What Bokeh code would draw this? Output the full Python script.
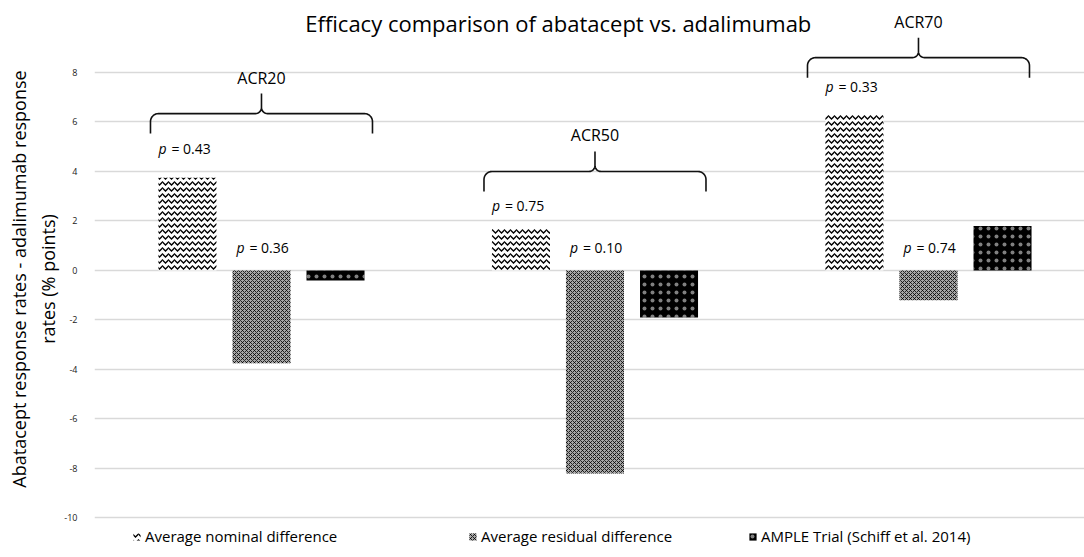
import numpy as np
from bokeh.plotting import figure
from bokeh.models import ColumnDataSource, Legend, LegendItem, Range1d
from bokeh.core.properties import value
from bokeh.embed import file_html
from bokeh.resources import INLINE

# ---------------- data ----------------
categories = ["ACR20", "ACR50", "ACR70"]
nominal_diff = [3.75, 1.7, 6.3]
residual_diff = [-3.75, -8.2, -1.2]
ample_diff = [-0.4, -1.9, 1.8]
p_nominal = ["0.43", "0.75", "0.33"]
p_residual = ["0.36", "0.10", "0.74"]
series_names = ["Average nominal difference", "Average residual difference",
                "AMPLE Trial (Schiff et al. 2014)"]
y_ticks = [-10, -8, -6, -4, -2, 0, 2, 4, 6, 8]

# ---------------- layout (not data) ----------------
PX_X = 333.5     # pixels per category
PX_Y = 24.75     # pixels per y unit
bar_offsets = [-0.222, 0.0, 0.222]
bar_width = 0.174
brace_level = [6.34, 4.0, 8.6]
brace_shift = [0.0, 0.0, -0.03]
p_nom_level = [4.93, 2.63, 7.43]
p_res_level = 0.92
FONT = "Open Sans"

x_idx = np.arange(len(categories), dtype=float)

p = figure(width=1084, height=557, output_backend="svg", toolbar_location=None,
           x_range=Range1d(-0.5007, 2.4678), y_range=Range1d(-11.596, 10.909),
           x_axis_location=None, min_border_left=94, min_border_right=0,
           min_border_top=0, min_border_bottom=0)
p.outline_line_color = None
p.background_fill_color = "white"
p.border_fill_color = "white"

# y axis
p.yaxis.ticker = y_ticks
p.yaxis.major_label_overrides = {t: str(t) for t in y_ticks}
p.yaxis.axis_line_color = None
p.yaxis.major_tick_line_color = None
p.yaxis.minor_tick_line_color = None
p.yaxis.major_label_standoff = 11
p.yaxis.major_label_text_font = FONT
p.yaxis.major_label_text_font_size = "9px"
p.yaxis.major_label_text_color = "#1a1a1a"
p.yaxis.axis_label = "Abatacept response rates - adalimumab response\nrates (% points)"
p.yaxis.axis_label_text_font = FONT
p.yaxis.axis_label_text_font_size = "18px"
p.yaxis.axis_label_text_font_style = "normal"
p.yaxis.axis_label_text_color = "#000000"
p.yaxis.axis_label_standoff = 1
p.ygrid.grid_line_color = "#d9d9d9"
p.ygrid.grid_line_width = 1.5
p.xgrid.visible = False

# bars
src = [ColumnDataSource(dict(x=x_idx + off, top=vals))
       for off, vals in zip(bar_offsets, [nominal_diff, residual_diff, ample_diff])]
r_nom = p.vbar(x="x", top="top", bottom=0, width=bar_width, source=src[0],
               fill_color="white", line_color=None,
               hatch_pattern="horizontal_wave", hatch_color="black",
               hatch_scale=6, hatch_weight=1.3)
r_res = p.vbar(x="x", top="top", bottom=0, width=bar_width, source=src[1],
               fill_color="#a6a6a6", line_color=None,
               hatch_pattern="diagonal_cross", hatch_color="black",
               hatch_scale=4, hatch_weight=0.8)
r_amp = p.vbar(x="x", top="top", bottom=0, width=bar_width, source=src[2],
               fill_color="black", line_color=None,
               hatch_pattern="dot", hatch_color="white", hatch_alpha=0.5,
               hatch_scale=8, hatch_weight=0.5)

# p-value labels
nom_left = x_idx + bar_offsets[0] - bar_width / 2
res_left = x_idx + bar_offsets[1] - bar_width / 2
for xs, ys, vals, dx in [(nom_left, p_nom_level, p_nominal, 0),
                         (res_left, [p_res_level] * 3, p_residual, 4)]:
    p.text(x=list(xs), y=list(ys), text=["p"] * 3, x_offset=dx,
           text_font=value(FONT), text_font_style="italic", text_font_size="14px",
           text_baseline="middle", text_align="left", text_color="black")
    p.text(x=list(xs), y=list(ys), text=["= " + v for v in vals], x_offset=dx + 13,
           text_font=value(FONT), text_font_size="14px",
           text_baseline="middle", text_align="left", text_color="black")

# braces
def brace(cx, base, half=111, hook=20, tip=20, r=8, r2=6):
    left = [(-half, -hook), (-half, -r)]
    for a in np.linspace(np.pi, np.pi / 2, 10):
        left.append((-half + r + r * np.cos(a), -r + r * np.sin(a)))
    for a in np.linspace(-np.pi / 2, 0, 10):
        left.append((-r2 + r2 * np.cos(a), r2 + r2 * np.sin(a)))
    left.append((0, tip))
    right = [(-x, y) for (x, y) in reversed(left[:-1])]
    pts = left + right
    return ([cx + px / PX_X for px, _ in pts], [base + py / PX_Y for _, py in pts])

bx, by = [], []
for i in range(len(categories)):
    xs, ys = brace(x_idx[i] + brace_shift[i], brace_level[i])
    bx.append(xs)
    by.append(ys)
p.multi_line(xs=bx, ys=by, line_color="#111111", line_width=1.6)

p.text(x=list(x_idx + np.array(brace_shift)), y=[b + 36 / PX_Y for b in brace_level],
       text=categories, text_font=value(FONT), text_font_size="16px",
       text_align="center", text_baseline="middle", text_color="black")

# title
p.text(x=[0.89], y=[10.02], text=["Efficacy comparison of abatacept vs. adalimumab"],
       text_font=value(FONT), text_font_size="22px", text_align="center",
       text_baseline="middle", text_color="black")

# legends
for r, name, xloc in zip([r_nom, r_res, r_amp], series_names, [38, 374, 654]):
    lg = Legend(items=[LegendItem(label=name, renderers=[r])], location=(xloc, 11),
                orientation="horizontal", padding=0, margin=0, spacing=0,
                border_line_color=None, background_fill_alpha=0,
                glyph_width=9, glyph_height=9, label_standoff=4, label_height=18,
                label_text_font=FONT, label_text_font_size="15px",
                label_text_color="black")
    p.add_layout(lg, "center")

open("out.html", "w").write(file_html(p, INLINE))
